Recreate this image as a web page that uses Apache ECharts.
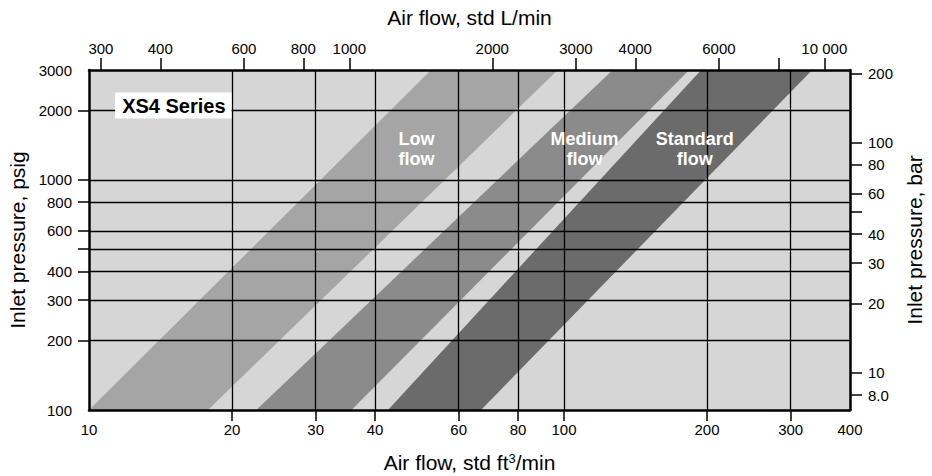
<!DOCTYPE html>
<html><head><meta charset="utf-8">
<script src="https://cdn.jsdelivr.net/npm/echarts@6/dist/echarts.min.js"></script>
<style>html,body{margin:0;padding:0;background:#fff}#c{width:932px;height:476px}</style>
</head><body><div id="c"></div>
<script>
// ---- data ----
const FT3_TO_L = 28.3168;      // 1 std ft3 = 28.3168 L
const PSI_PER_BAR = 14.5038;
const flowRange = [10, 400];           // std ft3/min
const pressureRange = [100, 3000];     // psig
const flowTicks = [20, 30, 40, 60, 80, 100, 200, 300];
const flowLabels = [10, 20, 30, 40, 60, 80, 100, 200, 300, 400];
const pressureTicks = [200, 300, 400, 500, 600, 800, 1000, 2000];
const pressureLabels = [100, 200, 300, 400, 600, 800, 1000, 2000, 3000];
const literTicks = [300, 400, 600, 800, 1000, 2000, 3000, 4000, 6000, 8000, 10000];
const literLabels = [300, 400, 600, 800, 1000, 2000, 3000, 4000, 6000, 10000];
const barTicks = [8, 10, 20, 30, 40, 50, 60, 80, 100, 200];
const barLabels = [8, 10, 20, 30, 40, 60, 80, 100, 200];

const bandNames = ['Low flow', 'Medium flow', 'Standard flow'];
// band edges: flow (std ft3/min) at 100 psig and at 3000 psig
const bandLeftAt100 = [10, 22.5, 42.6];
const bandRightAt100 = [17.8, 35.7, 66.9];
const bandLeftAt3000 = [52.5, 126.6, 194.4];
const bandRightAt3000 = [97.0, 183.4, 333];
const bandLabelFlow = [48.9, 110.5, 188.4];
const bandLabelPressure = [1361, 1361, 1361];
const seriesTitle = 'XS4 Series';
const seriesTitleAt = [15.05, 2102];

// ---- styles ----
const bandColors = ['#a5a5a5', '#8b8b8b', '#6b6b6b'];
const FONT = 'Liberation Sans, Arial, Helvetica, sans-serif';
const L = Math.log10;

function fmtInt(v) {
  const n = Math.round(Math.pow(10, v));
  return n >= 10000 ? String(n).replace(/\B(?=(\d{3})+$)/g, ' ') : String(n);
}
function fmtBar(v) {
  const n = Math.round(Math.pow(10, v) * 10) / 10;
  return n < 10 ? n.toFixed(1) : String(Math.round(n));
}

const axisLine = { show: true, onZero: false, lineStyle: { color: '#000', width: 2.5 } };
const tickStyle = { color: '#000', width: 1.5 };
const labelStyle = { fontSize: 15, color: '#000', fontFamily: FONT };
const nameStyle = { fontSize: 21, color: '#000', fontFamily: FONT };
const grid = { color: '#000', width: 1.3 };

const chart = echarts.init(document.getElementById('c'), null, { renderer: 'svg' });
chart.setOption({
  animation: false,
  backgroundColor: '#fff',
  grid: { left: 89, right: 82, top: 70, bottom: 66, show: true, backgroundColor: '#d6d6d6', borderWidth: 0, outerBoundsMode: 'none' },
  xAxis: [
    {
      type: 'value', position: 'bottom', min: L(flowRange[0]), max: L(flowRange[1]), z: 5,
      axisLine,
      axisTick: { show: true, customValues: flowTicks.map(L), length: 11, lineStyle: tickStyle },
      axisLabel: { customValues: flowLabels.map(L), formatter: fmtInt, margin: 12, ...labelStyle },
      splitLine: { show: true, lineStyle: grid },
      name: 'Air flow, std ft{s|3}/min', nameLocation: 'middle', nameGap: 42,
      nameTextStyle: { ...nameStyle, rich: { s: { fontSize: 13, fontFamily: FONT, color: '#000', verticalAlign: 'top', padding: [0, 0, 7, 0] } } }
    },
    {
      type: 'value', position: 'top', min: L(flowRange[0] * FT3_TO_L), max: L(flowRange[1] * FT3_TO_L), z: 5,
      axisLine,
      axisTick: { show: true, customValues: literTicks.map(L), length: 12, lineStyle: tickStyle },
      axisLabel: { customValues: literLabels.map(L), formatter: fmtInt, margin: 14, ...labelStyle },
      splitLine: { show: false },
      name: 'Air flow, std L/min', nameLocation: 'middle', nameGap: 42, nameTextStyle: nameStyle
    }
  ],
  yAxis: [
    {
      type: 'value', position: 'left', min: L(pressureRange[0]), max: L(pressureRange[1]), z: 5,
      axisLine,
      axisTick: { show: true, customValues: pressureTicks.map(L), length: 11, lineStyle: tickStyle },
      axisLabel: { customValues: pressureLabels.map(L), formatter: fmtInt, margin: 17, ...labelStyle },
      splitLine: { show: true, lineStyle: grid },
      name: 'Inlet pressure, psig', nameLocation: 'middle', nameGap: 53, nameTextStyle: nameStyle
    },
    {
      type: 'value', position: 'right', min: L(pressureRange[0] / PSI_PER_BAR), max: L(pressureRange[1] / PSI_PER_BAR), z: 5,
      axisLine,
      axisTick: { show: true, customValues: barTicks.map(L), length: 12, lineStyle: tickStyle },
      axisLabel: { customValues: barLabels.map(L), formatter: fmtBar, margin: 18, ...labelStyle },
      splitLine: { show: false },
      name: 'Inlet pressure, bar', nameLocation: 'middle', nameGap: 47, nameTextStyle: nameStyle
    }
  ],
  series: [
    {
      type: 'custom', xAxisIndex: 0, yAxisIndex: 0, silent: true, z: 2, clip: true,
      data: bandNames.map((n, i) => [L(bandLeftAt100[i]), L(bandRightAt100[i]), L(bandRightAt3000[i]), L(bandLeftAt3000[i]), i]),
      renderItem: function (params, api) {
        const y0 = L(pressureRange[0]), y1 = L(pressureRange[1]);
        const pts = [
          api.coord([api.value(0), y0]),
          api.coord([api.value(1), y0]),
          api.coord([api.value(2), y1]),
          api.coord([api.value(3), y1])
        ];
        return { type: 'polygon', shape: { points: pts }, style: { fill: bandColors[api.value(4)] } };
      }
    },
    {
      type: 'scatter', xAxisIndex: 0, yAxisIndex: 0, silent: true, symbolSize: 0, z: 10,
      itemStyle: { opacity: 1 }, emphasis: { disabled: true },
      data: bandNames.map((n, i) => ({ name: n, value: [L(bandLabelFlow[i]), L(bandLabelPressure[i])] })),
      label: { show: true, position: 'inside', formatter: p => p.name.replace(' ', '\n'), opacity: 1,
        color: '#fff', fontWeight: 'bold', fontSize: 18, lineHeight: 20, fontFamily: FONT }
    },
    {
      type: 'scatter', xAxisIndex: 0, yAxisIndex: 0, silent: true, symbolSize: 0, z: 10,
      itemStyle: { opacity: 1 }, emphasis: { disabled: true },
      data: [{ name: seriesTitle, value: [L(seriesTitleAt[0]), L(seriesTitleAt[1])] }],
      label: { show: true, position: 'inside', formatter: p => p.name, opacity: 1,
        color: '#000', fontWeight: 'bold', fontSize: 20, lineHeight: 20, fontFamily: FONT,
        backgroundColor: '#fff', padding: [3, 6, 3, 7] }
    }
  ]
});
</script></body></html>
